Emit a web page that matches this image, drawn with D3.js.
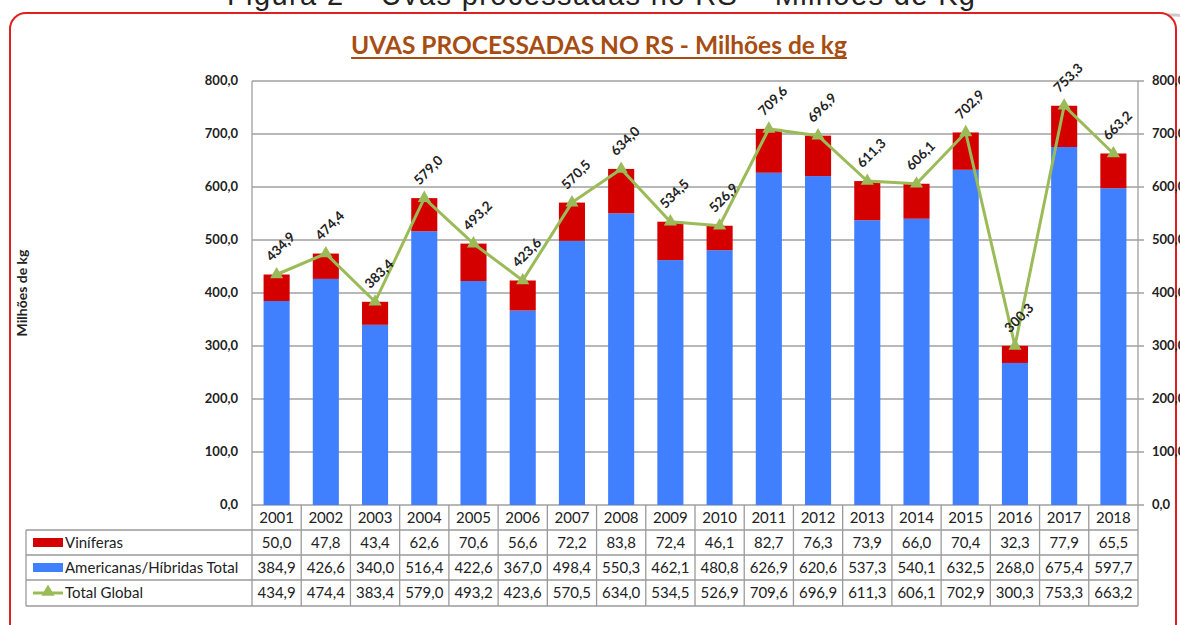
<!DOCTYPE html>
<html>
<head>
<meta charset="utf-8">
<script src="https://cdn.jsdelivr.net/npm/d3@7"></script>
<style>
  body { margin: 0; background: #fff; }
  svg { display: block; }
</style>
</head>
<body>
<div id="chart"></div>
<script>
const years = ["2001","2002","2003","2004","2005","2006","2007","2008","2009","2010","2011","2012","2013","2014","2015","2016","2017","2018"];
const viniferas = [50.0,47.8,43.4,62.6,70.6,56.6,72.2,83.8,72.4,46.1,82.7,76.3,73.9,66.0,70.4,32.3,77.9,65.5];
const americanas = [384.9,426.6,340.0,516.4,422.6,367.0,498.4,550.3,462.1,480.8,626.9,620.6,537.3,540.1,632.5,268.0,675.4,597.7];
const totalGlobal = [434.9,474.4,383.4,579.0,493.2,423.6,570.5,634.0,534.5,526.9,709.6,696.9,611.3,606.1,702.9,300.3,753.3,663.2];
const yTicks = [0,100,200,300,400,500,600,700,800];

const W = 1180, H = 625;
const plotL = 252, plotR = 1138, plotT = 81, plotB = 505;
const RED = "#d40000", BLUE = "#4080ff", GREEN = "#9bbb59";
const fmt = (v) => d3.format(".1f")(v).replace(".", ",");
const font = "Lato, 'Open Sans', sans-serif";

const svg = d3.select("#chart").append("svg")
  .attr("width", W).attr("height", H)
  .style("font-family", font);

// legenda da figura, cortada no topo como no original
svg.append("text")
  .attr("x", 227).attr("y", 5)
  .attr("textLength", 748)
  .style("font-family", "'Liberation Sans', Arial, sans-serif")
  .style("font-size", "29px")
  .attr("fill", "#222")
  .text("Figura 2 – Uvas processadas no RS – Milhões de Kg");

// moldura vermelha arredondada
svg.append("rect")
  .attr("x", 12).attr("y", 15).attr("width", 1180).attr("height", 700)
  .attr("rx", 16)
  .attr("fill", "none").attr("stroke", "#ccc").attr("stroke-width", 3);
svg.append("rect")
  .attr("x", 10).attr("y", 13).attr("width", 1166).attr("height", 700)
  .attr("rx", 16)
  .attr("fill", "#fff").attr("stroke", "#e02020").attr("stroke-width", 2);

// titulo
const title = svg.append("text")
  .attr("x", 599).attr("y", 54)
  .attr("text-anchor", "middle")
  .style("font-size", "24.5px")
  .style("font-weight", "bold")
  .attr("fill", "#a84d12")
  .text("UVAS PROCESSADAS NO RS - Milhões de kg");
const tb = title.node().getBBox();
svg.append("line")
  .attr("x1", tb.x).attr("x2", tb.x + tb.width)
  .attr("y1", 58).attr("y2", 58)
  .attr("stroke", "#a84d12").attr("stroke-width", 1.8);

const x = d3.scaleBand().domain(years).range([plotL, plotR]);
const y = d3.scaleLinear().domain([0, 800]).range([plotB, plotT]);
const barW = x.bandwidth() * 0.53;
const cx = (d) => x(d) + x.bandwidth() / 2;

// grade
svg.append("g").selectAll("line").data(yTicks).join("line")
  .attr("x1", plotL).attr("x2", plotR + 6)
  .attr("y1", (d) => y(d)).attr("y2", (d) => y(d))
  .attr("stroke", "#a0a0a0").attr("stroke-width", 1.3);
svg.append("line").attr("x1", plotL).attr("x2", plotL).attr("y1", plotT).attr("y2", plotB)
  .attr("stroke", "#a0a0a0").attr("stroke-width", 1.3);
svg.append("line").attr("x1", plotR).attr("x2", plotR).attr("y1", plotT).attr("y2", plotB)
  .attr("stroke", "#a0a0a0").attr("stroke-width", 1.3);

// eixos
svg.append("g").selectAll("text").data(yTicks).join("text")
  .attr("x", 238).attr("y", (d) => y(d) + 4)
  .attr("text-anchor", "end")
  .style("font-size", "13px").style("font-weight", "bold")
  .attr("fill", "#222")
  .text(fmt);
svg.append("g").selectAll("text").data(yTicks).join("text")
  .attr("x", 1152).attr("y", (d) => y(d) + 4)
  .style("font-size", "13px").style("font-weight", "bold")
  .attr("fill", "#222")
  .text(fmt);
svg.append("text")
  .attr("transform", "translate(27,293) rotate(-90)")
  .attr("text-anchor", "middle")
  .style("font-size", "14px").style("font-weight", "bold")
  .attr("fill", "#222")
  .text("Milhões de kg");

// barras empilhadas
const bars = svg.append("g");
bars.selectAll("rect.am").data(years).join("rect")
  .attr("class", "am")
  .attr("x", (d) => cx(d) - barW / 2).attr("width", barW)
  .attr("y", (d, i) => y(americanas[i]))
  .attr("height", (d, i) => y(0) - y(americanas[i]))
  .attr("fill", BLUE);
bars.selectAll("rect.vi").data(years).join("rect")
  .attr("class", "vi")
  .attr("x", (d) => cx(d) - barW / 2).attr("width", barW)
  .attr("y", (d, i) => y(americanas[i] + viniferas[i]))
  .attr("height", (d, i) => y(americanas[i]) - y(americanas[i] + viniferas[i]))
  .attr("fill", RED);

// linha total
const line = d3.line().x((d, i) => cx(years[i])).y((d) => y(d));
svg.append("path").datum(totalGlobal)
  .attr("d", line)
  .attr("fill", "none").attr("stroke", GREEN).attr("stroke-width", 3);
const tri = d3.symbol().type(d3.symbolTriangle).size(75);
svg.append("g").selectAll("path").data(totalGlobal).join("path")
  .attr("transform", (d, i) => `translate(${cx(years[i])},${y(d)})`)
  .attr("d", tri)
  .attr("fill", GREEN);

// rotulos
svg.append("g").selectAll("text").data(totalGlobal).join("text")
  .attr("transform", (d, i) => `translate(${cx(years[i]) + 4},${y(d) - 28}) rotate(-45)`)
  .attr("text-anchor", "middle")
  .attr("dy", "0.35em")
  .style("font-size", "13.5px").style("font-weight", "bold")
  .attr("fill", "#222")
  .text(fmt);

// tabela de dados
const rowTops = [505, 530, 555, 580, 606];
const table = svg.append("g");
const gridC = "#9a9a9a";
[530, 555, 580, 606].forEach((yy) => {
  table.append("line").attr("x1", 26).attr("x2", plotR).attr("y1", yy).attr("y2", yy)
    .attr("stroke", gridC).attr("stroke-width", 1.3);
});
table.append("line").attr("x1", 26).attr("x2", 26).attr("y1", 530).attr("y2", 606)
  .attr("stroke", gridC).attr("stroke-width", 1.3);
table.selectAll("line.v").data(years.concat(["end"])).join("line")
  .attr("class", "v")
  .attr("x1", (d) => d === "end" ? plotR : x(d))
  .attr("x2", (d) => d === "end" ? plotR : x(d))
  .attr("y1", 505).attr("y2", 606)
  .attr("stroke", gridC).attr("stroke-width", 1.3);

const rows = [
  { label: "Viníferas", values: viniferas },
  { label: "Americanas/Híbridas Total", values: americanas },
  { label: "Total Global", values: totalGlobal }
];
table.selectAll("text.yr").data(years).join("text")
  .attr("class", "yr")
  .attr("x", cx).attr("y", 523)
  .attr("text-anchor", "middle")
  .style("font-size", "15px")
  .attr("fill", "#222")
  .text((d) => d);
rows.forEach((r, k) => {
  const ym = (rowTops[k + 1] + rowTops[k + 2]) / 2;
  table.selectAll("text.r" + k).data(r.values).join("text")
    .attr("class", "r" + k)
    .attr("x", (d, i) => cx(years[i])).attr("y", ym + 5)
    .attr("text-anchor", "middle")
    .style("font-size", "15px")
    .attr("fill", "#222")
    .text(fmt);
  table.append("text")
    .attr("x", 65).attr("y", ym + 5)
    .style("font-size", "15px")
    .attr("fill", "#222")
    .text(r.label);
});
// simbolos da legenda
table.append("rect").attr("x", 33).attr("y", 538).attr("width", 30).attr("height", 9).attr("fill", RED);
table.append("rect").attr("x", 33).attr("y", 563).attr("width", 30).attr("height", 9).attr("fill", BLUE);
table.append("line").attr("x1", 33).attr("x2", 63).attr("y1", 593).attr("y2", 593)
  .attr("stroke", GREEN).attr("stroke-width", 3);
table.append("path").attr("transform", "translate(48,592)").attr("d", tri).attr("fill", GREEN);
</script>
</body>
</html>
